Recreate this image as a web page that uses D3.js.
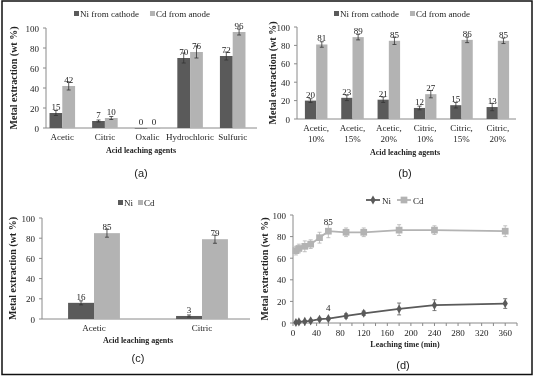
<!DOCTYPE html>
<html>
<head>
<meta charset="utf-8">
<script src="https://cdn.jsdelivr.net/npm/d3@7"></script>
<style>
  body { margin: 0; background: #fff; }
  svg { display: block; will-change: transform; }
  text { font-family: "Liberation Serif", "Times New Roman", serif; fill: #222; }
  .panel-label { font-family: "Liberation Sans", Arial, sans-serif; font-size: 11px; }
  .axis-title { font-weight: bold; font-size: 8px; }
  .y-title { font-weight: bold; font-size: 10px; }
  .tick-label { font-size: 9px; }
</style>
</head>
<body>
<div id="chart"></div>
<script>
// ---- data ----
// (a) acid screening
var catsA = ["Acetic", "Citric", "Oxalic", "Hydrochloric", "Sulfuric"];
var niA = [15, 7, 0, 70, 72];
var cdA = [42, 10, 0, 76, 96];
var niErrA = [2.5, 1, 0, 5, 4];
var cdErrA = [4, 1.5, 0, 6, 3];

// (b) concentration
var catsB = [["Acetic,", "10%"], ["Acetic,", "15%"], ["Acetic,", "20%"], ["Citric,", "10%"], ["Citric,", "15%"], ["Citric,", "20%"]];
var niB = [20, 23, 21, 12, 15, 13];
var cdB = [81, 89, 85, 27, 86, 85];
var niErrB = [2, 3, 3, 2, 3, 4];
var cdErrB = [3, 3, 4, 4, 3, 3];

// (c) single acid
var catsC = ["Acetic", "Citric"];
var niC = [16, 3];
var cdC = [85, 79];
var niErrC = [2, 1];
var cdErrC = [4, 4];

// (d) leaching time
var timeD = [5, 10, 20, 30, 45, 60, 90, 120, 180, 240, 360];
var niD = [0.5, 1, 1.5, 2, 3.5, 4, 6.5, 9, 13, 16.5, 18];
var cdD = [67, 69, 71, 73, 79, 85, 84, 84, 86, 86, 85];
var niErrD = [0.8, 0.8, 0.8, 1, 1, 1, 2, 2, 5.5, 5, 4.5];
var cdErrD = [4, 4, 5, 4, 5, 6, 4, 4, 5, 4, 5];
var yTicks = [0, 20, 40, 60, 80, 100];
var xTicksD = [0, 40, 80, 120, 160, 200, 240, 280, 320, 360];

var niColor = "#5a5a5a", cdColor = "#b3b3b3", axisColor = "#8a8a8a";

var svg = d3.select("#chart").append("svg")
    .attr("width", 535)
    .attr("height", 379);

svg.append("rect")
    .attr("x", 2).attr("y", 1)
    .attr("width", 530).attr("height", 373.5)
    .attr("fill", "none")
    .attr("stroke", "#111")
    .attr("stroke-width", 1.5);

// y axis with ticks + labels, plus the title
function drawYAxis(g, y, x0, titleX) {
  g.append("line")
      .attr("x1", x0).attr("x2", x0)
      .attr("y1", y(0)).attr("y2", y(100))
      .attr("stroke", axisColor);
  g.selectAll(".ytick").data(yTicks).enter().append("line")
      .attr("x1", x0 - 3).attr("x2", x0)
      .attr("y1", function(d) { return y(d); })
      .attr("y2", function(d) { return y(d); })
      .attr("stroke", axisColor);
  g.selectAll(".ylab").data(yTicks).enter().append("text")
      .attr("class", "tick-label")
      .attr("x", x0 - 7)
      .attr("y", function(d) { return y(d) + 3.5; })
      .attr("text-anchor", "end")
      .text(function(d) { return d; });
  g.append("text")
      .attr("class", "y-title")
      .attr("transform", "translate(" + titleX + "," + ((y(0) + y(100)) / 2) + ") rotate(-90)")
      .attr("text-anchor", "middle")
      .text("Metal extraction (wt %)");
}

function errBar(g, x, yTop, yBot, color) {
  g.append("line").attr("x1", x).attr("x2", x).attr("y1", yTop).attr("y2", yBot)
      .attr("stroke", color).attr("stroke-width", 0.8);
  [yTop, yBot].forEach(function(yy) {
    g.append("line").attr("x1", x - 2).attr("x2", x + 2).attr("y1", yy).attr("y2", yy)
        .attr("stroke", color).attr("stroke-width", 0.8);
  });
}

// grouped bar panel
function barPanel(o) {
  var g = svg.append("g");
  var x = d3.scaleBand().domain(d3.range(o.cats.length)).range(o.xRange)
      .paddingInner(o.pad).paddingOuter(o.pad / 2);
  var xs = d3.scaleBand().domain(["ni", "cd"]).range([0, x.bandwidth()]);
  var y = d3.scaleLinear().domain([0, 100]).range(o.yRange);

  drawYAxis(g, y, o.axisX, o.titleX);
  g.append("line")
      .attr("x1", o.axisX).attr("x2", o.axisEnd)
      .attr("y1", y(0)).attr("y2", y(0))
      .attr("stroke", axisColor);

  var series = [
    {key: "ni", vals: o.ni, errs: o.niErr, color: niColor},
    {key: "cd", vals: o.cd, errs: o.cdErr, color: cdColor}
  ];
  series.forEach(function(s) {
    s.vals.forEach(function(v, i) {
      var bx = x(i) + xs(s.key), bw = xs.bandwidth();
      g.append("rect")
          .attr("x", bx).attr("y", y(v))
          .attr("width", bw).attr("height", Math.max(y(0) - y(v), 0.6))
          .attr("fill", s.color);
      if (s.errs[i] > 0) errBar(g, bx + bw / 2, y(v + s.errs[i]), y(v - s.errs[i]), "#333");
      g.append("text")
          .attr("class", "tick-label")
          .attr("x", bx + bw / 2)
          .attr("y", y(v) - 3)
          .attr("text-anchor", "middle")
          .text(v);
    });
  });

  // category labels
  o.cats.forEach(function(c, i) {
    var lines = Array.isArray(c) ? c : [c];
    var t = g.append("text")
        .attr("class", "tick-label")
        .attr("x", x(i) + x.bandwidth() / 2)
        .attr("y", y(0) + 12)
        .attr("text-anchor", "middle");
    lines.forEach(function(l, k) {
      t.append("tspan").attr("x", x(i) + x.bandwidth() / 2).attr("dy", k ? 10.5 : 0).text(l);
    });
  });

  g.append("text")
      .attr("class", "axis-title")
      .attr("x", o.titleXc).attr("y", o.xTitleY)
      .attr("text-anchor", "middle")
      .text("Acid leaching agents");

  // legend
  var lx = o.legendX;
  o.legend.forEach(function(name, k) {
    g.append("rect")
        .attr("x", lx).attr("y", o.legendY - 6)
        .attr("width", 5).attr("height", 5)
        .attr("fill", k ? cdColor : niColor);
    var t = g.append("text")
        .attr("class", "tick-label")
        .attr("x", lx + 6).attr("y", o.legendY)
        .text(name);
    lx += 6 + t.node().getComputedTextLength() + o.legendGap;
  });

  g.append("text")
      .attr("class", "panel-label")
      .attr("x", o.titleXc).attr("y", o.labelY)
      .attr("text-anchor", "middle")
      .text(o.label);
}

barPanel({cats: catsA, ni: niA, cd: cdA, niErr: niErrA, cdErr: cdErrA,
  xRange: [41, 254], pad: 0.4, yRange: [128, 28], axisX: 46, axisEnd: 257, titleX: 17,
  titleXc: 141, xTitleY: 153, legend: ["Ni from cathode", "Cd from anode"], legendX: 74, legendY: 17,
  legendGap: 11, labelY: 177, label: "(a)"});

barPanel({cats: catsB, ni: niB, cd: cdB, niErr: niErrB, cdErr: cdErrB,
  xRange: [298, 516], pad: 0.38, yRange: [119, 27], axisX: 297, axisEnd: 516, titleX: 276,
  titleXc: 405, xTitleY: 155, legend: ["Ni from cathode", "Cd from anode"], legendX: 334, legendY: 17,
  legendGap: 11, labelY: 177, label: "(b)"});

barPanel({cats: catsC, ni: niC, cd: cdC, niErr: niErrC, cdErr: cdErrC,
  xRange: [40, 256], pad: 0.52, yRange: [319, 218], axisX: 42, axisEnd: 250, titleX: 16,
  titleXc: 138, xTitleY: 343, legend: ["Ni", "Cd"], legendX: 118, legendY: 206,
  legendGap: 5, labelY: 362, label: "(c)"});

// ---- (d) line chart ----
var gD = svg.append("g");
var xD = d3.scaleLinear().domain([0, 380]).range([293, 517]);
var yD = d3.scaleLinear().domain([0, 100]).range([323, 215]);
drawYAxis(gD, yD, 293, 268);
gD.append("line")
    .attr("x1", xD(0)).attr("x2", xD(380))
    .attr("y1", yD(0)).attr("y2", yD(0))
    .attr("stroke", axisColor);
gD.selectAll(".xt").data(d3.range(0, 381, 20)).enter().append("line")
    .attr("x1", function(d) { return xD(d); })
    .attr("x2", function(d) { return xD(d); })
    .attr("y1", yD(0)).attr("y2", yD(0) + 3)
    .attr("stroke", axisColor);
gD.selectAll(".xl").data(xTicksD).enter().append("text")
    .attr("class", "tick-label")
    .attr("x", function(d) { return xD(d); })
    .attr("y", yD(0) + 13)
    .attr("text-anchor", "middle")
    .text(function(d) { return d; });

var lineD = d3.line()
    .x(function(d) { return xD(d[0]); })
    .y(function(d) { return yD(d[1]); });

var seriesD = [
  {name: "Ni", vals: niD, errs: niErrD, color: niColor, shape: d3.symbolDiamond, size: 24},
  {name: "Cd", vals: cdD, errs: cdErrD, color: cdColor, shape: d3.symbolSquare, size: 45}
];
seriesD.forEach(function(s) {
  var pts = timeD.map(function(t, i) { return [t, s.vals[i]]; });
  gD.append("path")
      .datum(pts)
      .attr("d", lineD)
      .attr("fill", "none")
      .attr("stroke", s.color)
      .attr("stroke-width", 1.8);
  pts.forEach(function(p, i) {
    errBar(gD, xD(p[0]), yD(p[1] + s.errs[i]), yD(Math.max(p[1] - s.errs[i], 0)), s.color);
  });
  gD.selectAll(null).data(pts).enter().append("path")
      .attr("d", d3.symbol().type(s.shape).size(s.size))
      .attr("transform", function(d) { return "translate(" + xD(d[0]) + "," + yD(d[1]) + ")"; })
      .attr("fill", s.color);
});
// labels at 60 min
gD.append("text").attr("class", "tick-label").attr("x", xD(60)).attr("y", yD(cdD[5]) - 6)
    .attr("text-anchor", "middle").text(cdD[5]);
gD.append("text").attr("class", "tick-label").attr("x", xD(60)).attr("y", yD(niD[5]) - 8)
    .attr("text-anchor", "middle").text(niD[5]);

// legend (d)
var lgx = 366;
seriesD.forEach(function(s) {
  gD.append("line").attr("x1", lgx).attr("x2", lgx + 14).attr("y1", 200).attr("y2", 200)
      .attr("stroke", s.color).attr("stroke-width", 1.8);
  gD.append("path")
      .attr("d", d3.symbol().type(s.shape).size(s.size))
      .attr("transform", "translate(" + (lgx + 7) + ",200)")
      .attr("fill", s.color);
  gD.append("text").attr("class", "tick-label").attr("x", lgx + 16).attr("y", 203.5).text(s.name);
  lgx += 31;
});

gD.append("text")
    .attr("class", "axis-title")
    .attr("x", 405).attr("y", 347)
    .attr("text-anchor", "middle")
    .text("Leaching time (min)");
gD.append("text")
    .attr("class", "panel-label")
    .attr("x", 403).attr("y", 369)
    .attr("text-anchor", "middle")
    .text("(d)");
</script>
</body>
</html>
